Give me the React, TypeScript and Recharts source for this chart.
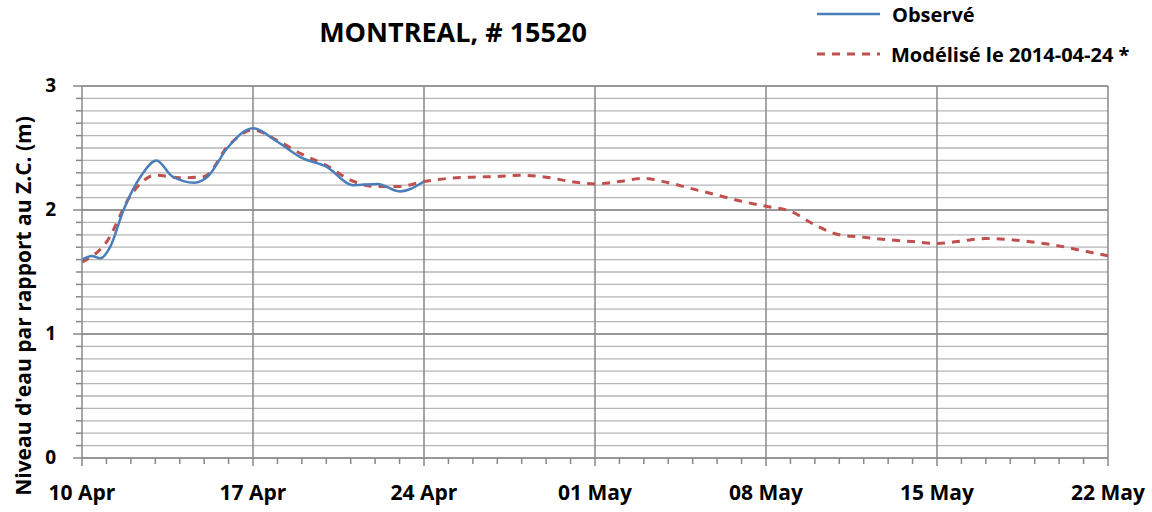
import React from "react";
import {
  LineChart,
  Line,
  XAxis,
  YAxis,
  CartesianGrid,
  ReferenceLine,
  Customized,
} from "recharts";

// ---- data ----
const observedDays = [0, 0.4, 0.75, 1.15, 1.7, 2.4, 3.05, 3.7, 4.6, 5.15, 5.95, 7, 8, 9, 10, 11.1, 12.1, 13, 14];
const observedValues = [1.6, 1.63, 1.61, 1.7, 2.0, 2.27, 2.4, 2.27, 2.22, 2.27, 2.5, 2.66, 2.55, 2.42, 2.35, 2.2, 2.21, 2.15, 2.23];

const modelDays = [
  0, 1, 2, 3, 4, 5, 6, 7, 8, 9, 10, 11, 12, 13, 14, 15, 16, 17, 18, 19, 20, 21,
  22, 23, 24, 25, 26, 27, 28, 29, 30, 31, 32, 33, 34, 35, 36, 37, 38, 39, 40, 41, 42,
];
const modelValues = [
  1.58, 1.74, 2.12, 2.28, 2.26, 2.27, 2.52, 2.645, 2.56, 2.45, 2.36, 2.24, 2.19, 2.19,
  2.23, 2.255, 2.265, 2.27, 2.28, 2.265, 2.23, 2.21, 2.23, 2.255, 2.22, 2.17, 2.12, 2.07,
  2.03, 1.99, 1.88, 1.8, 1.78, 1.76, 1.745, 1.73, 1.75, 1.77, 1.76, 1.74, 1.71, 1.67, 1.63,
];

const majorDays = [0, 7, 14, 21, 28, 35, 42];
const majorLabels = ["10 Apr", "17 Apr", "24 Apr", "01 May", "08 May", "15 May", "22 May"];
const dayTicks = Array.from({ length: 43 }, (_, i) => i);
const yMajor = [0, 1, 2, 3];
const yTicks = Array.from({ length: 31 }, (_, i) => i / 10);

const title = "MONTREAL, # 15520";
const yLabel = "Niveau d'eau par rapport au Z.C. (m)";
const seriesNames = ["Observé", "Modélisé le 2014-04-24 *"];

const observedData = observedDays.map((d, i) => ({ day: d, obs: observedValues[i] }));
const modelData = modelDays.map((d, i) => ({ day: d, mod: modelValues[i] }));

const FONT = "'Open Sans', 'Noto Sans', sans-serif";
const BLUE = "#4A7EBB";
const RED = "#C0504D";
const MINOR = "#B5B5B5";
const MAJOR = "#888888";

const XTick = (props: any) => {
  const { x, y, payload } = props;
  const idx = majorDays.indexOf(payload.value);
  const isMajor = idx >= 0;
  return (
    <g>
      <line x1={x} x2={x} y1={y} y2={y + (isMajor ? 8 : 6)} stroke={MAJOR} strokeWidth={1.5} />
      {isMajor && (
        <text
          x={x}
          y={y + 42}
          textAnchor="middle"
          fontFamily={FONT}
          fontWeight={700}
          fontSize={21}
          fill="#000"
        >
          {majorLabels[idx]}
        </text>
      )}
    </g>
  );
};

const YTick = (props: any) => {
  const { x, y, payload } = props;
  const v = payload.value;
  const isMajor = yMajor.some((m) => Math.abs(m - v) < 1e-6);
  return (
    <g>
      <line x1={x - (isMajor ? 9 : 6)} x2={x} y1={y} y2={y} stroke={MAJOR} strokeWidth={1.5} />
      {isMajor && (
        <text
          x={x - 26}
          y={y + 6}
          textAnchor="end"
          fontFamily={FONT}
          fontWeight={700}
          fontSize={19}
          fill="#000"
        >
          {Math.round(v)}
        </text>
      )}
    </g>
  );
};

const Decorations = () => (
  <g>
    <text
      x={453}
      y={42}
      textAnchor="middle"
      fontFamily={FONT}
      fontWeight={700}
      fontSize={27}
      fill="#000"
    >
      {title}
    </text>
    <text
      transform="translate(31, 306) rotate(-90)"
      textAnchor="middle"
      fontFamily={FONT}
      fontWeight={700}
      fontSize={21}
      fill="#000"
    >
      {yLabel}
    </text>
    <line x1={817} x2={880} y1={14} y2={14} stroke={BLUE} strokeWidth={2.5} />
    <text x={892} y={22} fontFamily={FONT} fontWeight={700} fontSize={20} fill="#000">
      {seriesNames[0]}
    </text>
    <line x1={817} x2={880} y1={54} y2={54} stroke={RED} strokeWidth={3} strokeDasharray="8 7" />
    <text x={891} y={62} fontFamily={FONT} fontWeight={700} fontSize={20} fill="#000">
      {seriesNames[1]}
    </text>
  </g>
);

export default function App() {
  return (
    <div style={{ position: "absolute", left: 0, top: 0, width: 1152, height: 512, background: "#fff" }}>
      <LineChart width={1152} height={512} margin={{ top: 86, right: 44, bottom: 0, left: 0 }}>
        <CartesianGrid horizontal vertical={false} stroke={MINOR} strokeWidth={1.3} />
        <XAxis
          type="number"
          dataKey="day"
          domain={[0, 42]}
          ticks={dayTicks}
          interval={0}
          height={54}
          tickSize={0}
          tickMargin={0}
          tickLine={false}
          tick={<XTick />}
          axisLine={{ stroke: MAJOR, strokeWidth: 1.5 }}
          allowDataOverflow
        />
        <YAxis
          type="number"
          domain={[0, 3]}
          ticks={yTicks}
          interval={0}
          width={82}
          tickSize={0}
          tickMargin={0}
          tickLine={false}
          tick={<YTick />}
          axisLine={{ stroke: MAJOR, strokeWidth: 1.5 }}
          allowDataOverflow
        />
        {yMajor.slice(1).map((v) => (
          <ReferenceLine key={"y" + v} y={v} stroke={MAJOR} strokeWidth={1.5} />
        ))}
        {majorDays.slice(1).map((d) => (
          <ReferenceLine key={"x" + d} x={d} stroke={MAJOR} strokeWidth={1.5} />
        ))}
        <Line
          data={modelData}
          dataKey="mod"
          type="monotone"
          stroke={RED}
          strokeWidth={3}
          strokeDasharray="8 7"
          dot={false}
          isAnimationActive={false}
        />
        <Line
          data={observedData}
          dataKey="obs"
          type="monotone"
          stroke={BLUE}
          strokeWidth={2.5}
          dot={false}
          isAnimationActive={false}
        />
        <Customized component={Decorations} />
      </LineChart>
    </div>
  );
}
